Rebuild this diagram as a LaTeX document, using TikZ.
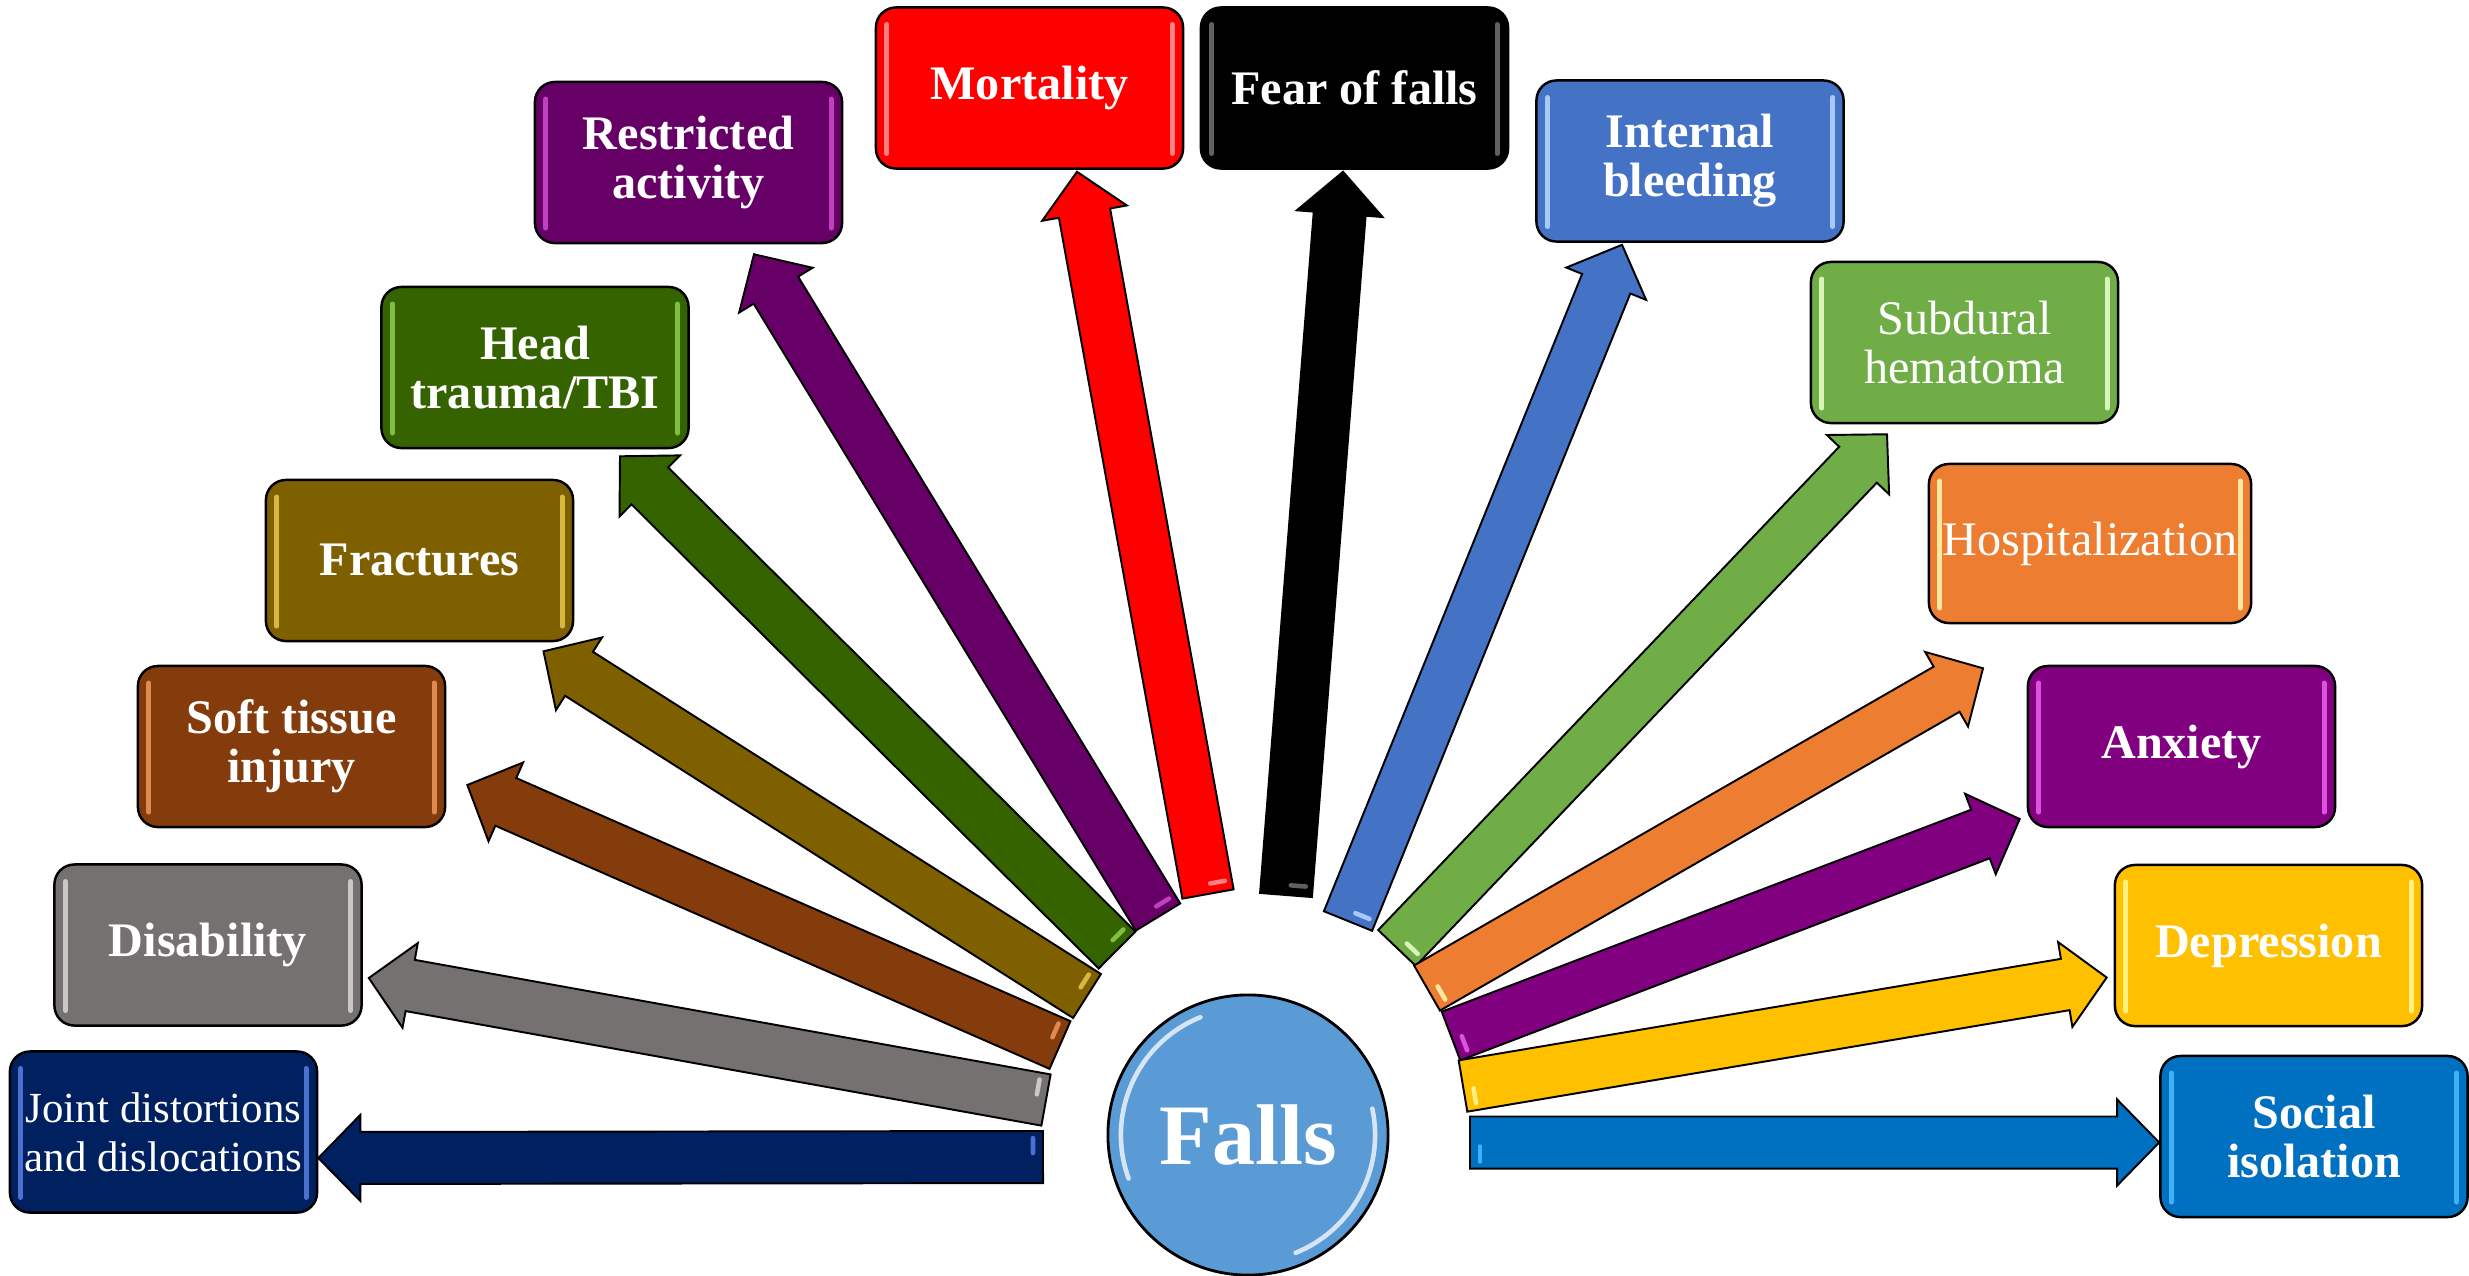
\documentclass[tikz,border=0pt]{standalone}
\usepackage{fontspec}
\setmainfont{Liberation Serif}
\usetikzlibrary{calc}

% fills and their glossy highlight tints
\definecolor{cNavy}{HTML}{002060}   \definecolor{hNavy}{HTML}{4A70D0}
\definecolor{cGray}{HTML}{767171}   \definecolor{hGray}{HTML}{C8C8C8}
\definecolor{cBrown}{HTML}{843C0C}  \definecolor{hBrown}{HTML}{E08A50}
\definecolor{cOlive}{HTML}{7F6000}  \definecolor{hOlive}{HTML}{D8B840}
\definecolor{cDkGreen}{HTML}{356300}\definecolor{hDkGreen}{HTML}{80C040}
\definecolor{cPlum}{HTML}{660066}   \definecolor{hPlum}{HTML}{C040C0}
\definecolor{cRed}{HTML}{FF0000}    \definecolor{hRed}{HTML}{FF8080}
\definecolor{cBlack}{HTML}{000000}  \definecolor{hBlack}{HTML}{606060}
\definecolor{cBlue}{HTML}{4472C4}   \definecolor{hBlue}{HTML}{A8C8F8}
\definecolor{cGreen}{HTML}{70AD47}  \definecolor{hGreen}{HTML}{D8F4B8}
\definecolor{cOrange}{HTML}{ED7D31} \definecolor{hOrange}{HTML}{FFE8A0}
\definecolor{cPurple}{HTML}{800080} \definecolor{hPurple}{HTML}{E050E0}
\definecolor{cYellow}{HTML}{FFC000} \definecolor{hYellow}{HTML}{FFF080}
\definecolor{cSky}{HTML}{0070C0}    \definecolor{hSky}{HTML}{40B0F8}
\definecolor{cFalls}{HTML}{5B9BD5}

\tikzset{
  gloss/.style={path picture={
    \draw[#1, line width=1.4pt, line cap=round]
      ([xshift=0.11cm,yshift=-0.17cm]path picture bounding box.north west) --
      ([xshift=0.11cm,yshift=0.15cm]path picture bounding box.south west);
    \draw[#1, line width=1.4pt, line cap=round]
      ([xshift=-0.11cm,yshift=-0.17cm]path picture bounding box.north east) --
      ([xshift=-0.11cm,yshift=0.15cm]path picture bounding box.south east);
  }},
  outcome/.style 2 args={rectangle, rounded corners=0.2cm, draw=black,
    line width=0.7pt, minimum width=3.07cm, minimum height=1.61cm,
    inner sep=0pt, align=center, text=white, fill=#1, gloss=#2,
    font=\bfseries\fontsize{13.7}{13.9}\selectfont},
  plain/.style={font=\fontsize{13.7}{13.9}\selectfont},
}

% thick block arrow from a tail point #1 to a tip point #2, fill #3, tint #4
\newcommand\outcomearrow[4]{%
  \coordinate (#1-b) at ($(#2)!0.42cm!(#1)$);
  \filldraw[fill=#3, draw=black, line width=0.55pt, line join=miter]
    ($(#1)!0.26cm!90:(#2)$) -- ($(#1-b)!0.26cm!90:(#2)$) --
    ($(#1-b)!0.43cm!90:(#2)$) -- (#2) --
    ($(#1-b)!0.43cm!-90:(#2)$) -- ($(#1-b)!0.26cm!-90:(#2)$) --
    ($(#1)!0.26cm!-90:(#2)$) -- cycle;
  \coordinate (#1-h) at ($(#1)!0.1cm!(#2)$);
  \draw[#4, line width=1.3pt, line cap=round]
    ($(#1-h)!0.04cm!-90:(#2)$) -- ($(#1-h)!0.19cm!-90:(#2)$);
}

\begin{document}
\begin{tikzpicture}[x=0.01cm, y=-0.01cm]
\useasboundingbox (0,0) rectangle (2469,1275);

% outcome boxes
\node[outcome={cNavy}{hNavy}, plain, font=\fontsize{12.2}{13.9}\selectfont]
  (jd) at (163.5,1132) {Joint distortions\\and dislocations};
\node[outcome={cGray}{hGray}]       (dis)   at (208,945)     {Disability};
\node[outcome={cBrown}{hBrown}]     (sti)   at (291.5,746.5) {Soft tissue\\injury};
\node[outcome={cOlive}{hOlive}]     (fra)   at (419.5,560.5) {Fractures};
\node[outcome={cDkGreen}{hDkGreen}] (head)  at (535,367.5)   {Head\\trauma/TBI};
\node[outcome={cPlum}{hPlum}]       (restr) at (688.5,162.5) {Restricted\\activity};
\node[outcome={cRed}{hRed}]         (mort)  at (1029.5,88)   {Mortality};
\node[outcome={cBlack}{hBlack}]     (fear)  at (1354.5,88)   {Fear of falls};
\node[outcome={cBlue}{hBlue}]       (intb)  at (1690,161)    {Internal\\bleeding};
\node[outcome={cGreen}{hGreen}, plain] (subd) at (1964.5,342.5) {Subdural\\hematoma};
\node[outcome={cOrange}{hOrange}, plain, minimum width=3.22cm, minimum height=1.59cm]
  (hosp) at (2090,543.5) {Hospitalization};
\node[outcome={cPurple}{hPurple}]   (anx)   at (2181.5,746.5) {Anxiety};
\node[outcome={cYellow}{hYellow}]   (dep)   at (2268.5,945.5) {Depression};
\node[outcome={cSky}{hSky}]         (soc)   at (2314,1136.5)  {Social\\isolation};

% arrow tails around the central circle
\coordinate (t1)  at (1043,1157);
\coordinate (t2)  at (1046,1100);
\coordinate (t3)  at (1060,1045);
\coordinate (t4)  at (1087,996);
\coordinate (t5)  at (1117,950);
\coordinate (t6)  at (1158,917);
\coordinate (t7)  at (1208,894);
\coordinate (t8)  at (1286,895);
\coordinate (t9)  at (1348,921);
\coordinate (t10) at (1397,948);
\coordinate (t11) at (1427,988);
\coordinate (t12) at (1451,1036);
\coordinate (t13) at (1463,1086);
\coordinate (t14) at (1470,1142.5);

% arrow tips at the boxes
\coordinate (p1)  at ($(jd.east)+(0,26)$);
\coordinate (p2)  at ($(dis.east)+(6,33)$);
\coordinate (p3)  at ($(sti.east)+(21,38.5)$);
\coordinate (p4)  at ($(fra.south)+(124,9)$);
\coordinate (p5)  at ($(head.south)+(85,7)$);
\coordinate (p6)  at ($(restr.south)+(65.5,10)$);
\coordinate (p7)  at ($(mort.south)+(47.5,2)$);
\coordinate (p8)  at ($(fear.south)+(-11.5,2)$);
\coordinate (p9)  at ($(intb.south)+(-68,2)$);
\coordinate (p10) at ($(subd.south)+(-77.5,10)$);
\coordinate (p11) at ($(hosp.south)+(-107,44)$);
\coordinate (p12) at ($(anx.west)+(-7,72.5)$);
\coordinate (p13) at ($(dep.west)+(-7,32)$);
\coordinate (p14) at ($(soc.west)+(0,6)$);

\outcomearrow{t1}{p1}{cNavy}{hNavy}
\outcomearrow{t2}{p2}{cGray}{hGray}
\outcomearrow{t3}{p3}{cBrown}{hBrown}
\outcomearrow{t4}{p4}{cOlive}{hOlive}
\outcomearrow{t5}{p5}{cDkGreen}{hDkGreen}
\outcomearrow{t6}{p6}{cPlum}{hPlum}
\outcomearrow{t7}{p7}{cRed}{hRed}
\outcomearrow{t8}{p8}{cBlack}{hBlack}
\outcomearrow{t9}{p9}{cBlue}{hBlue}
\outcomearrow{t10}{p10}{cGreen}{hGreen}
\outcomearrow{t11}{p11}{cOrange}{hOrange}
\outcomearrow{t12}{p12}{cPurple}{hPurple}
\outcomearrow{t13}{p13}{cYellow}{hYellow}
\outcomearrow{t14}{p14}{cSky}{hSky}

% central circle
\node[circle, minimum size=2.8cm, inner sep=0pt, fill=cFalls, draw=black,
  line width=0.8pt, text=white, font=\bfseries\fontsize{24.5}{26}\selectfont]
  (falls) at (1248,1135) {Falls};
\draw[white, opacity=0.75, line width=1.3pt, line cap=round]
  ($(falls.center)+(112:1.27cm)$) arc[start angle=112, end angle=200, radius=1.27cm];
\draw[white, opacity=0.75, line width=1.3pt, line cap=round]
  ($(falls.center)+(-68:1.27cm)$) arc[start angle=-68, end angle=12, radius=1.27cm];
\end{tikzpicture}
\end{document}
